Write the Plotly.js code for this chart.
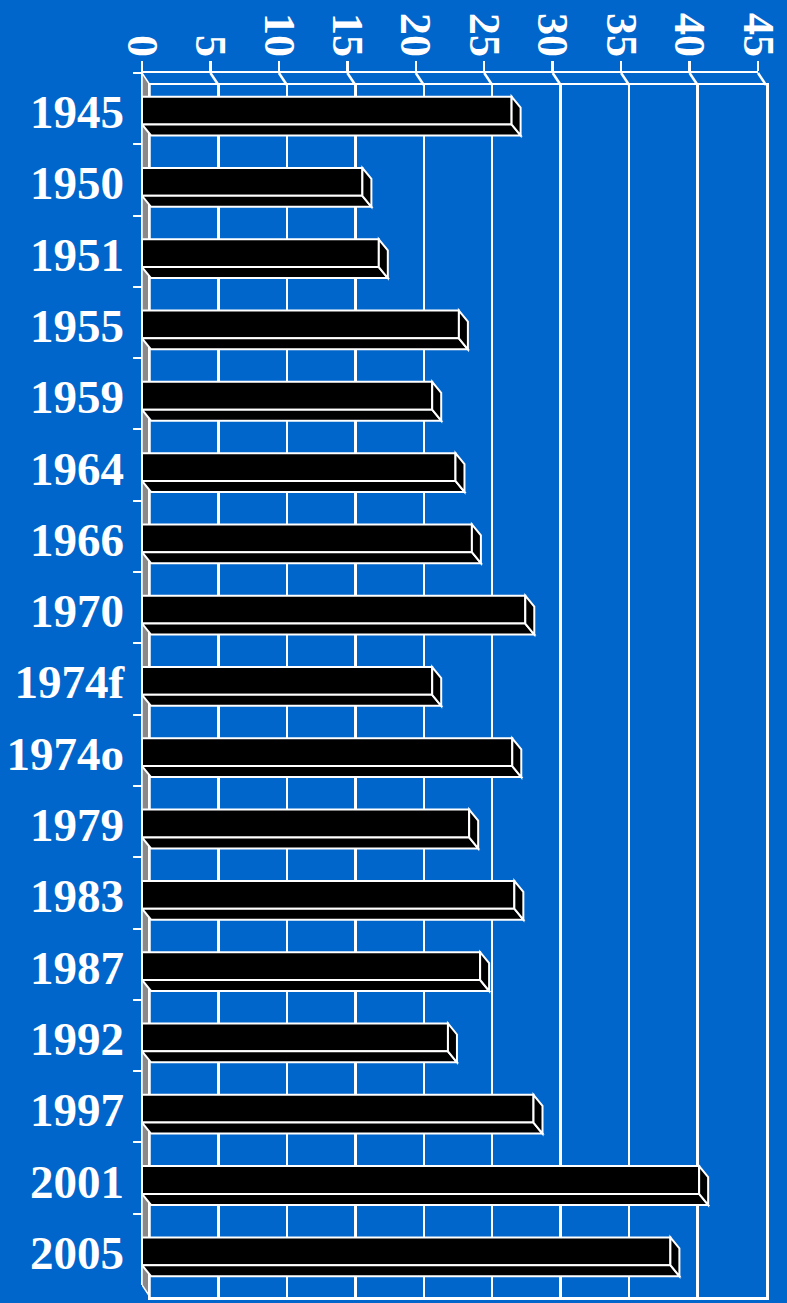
<!DOCTYPE html>
<html>
<head>
<meta charset="utf-8">
<script src="https://cdn.plot.ly/plotly-3.0.1.min.js"></script>
<style>html,body{margin:0;padding:0;background:#0066CC;}#chart{width:787px;height:1303px;}</style>
</head>
<body>
<div id="chart"></div>
<script>
// ---- data ----
const categories = ['1945','1950','1951','1955','1959','1964','1966','1970','1974f','1974o','1979','1983','1987','1992','1997','2001','2005'];
const values = [27.0,16.1,17.3,23.15,21.2,22.9,24.1,28.0,21.2,27.05,23.9,27.2,24.7,22.35,28.6,40.7,38.6];
const xTickVals = [0,5,10,15,20,25,30,35,40,45];
const xTickLabels = ['0','5','10','15','20','25','30','35','40','45'];

// ---- geometry / style ----
const W = 787, H = 1303;
const FX0 = 142, FX1 = 758, FY0 = 73, FY1 = 1285;   // front plane (px)
const GDX = 8, GDY = 12;     // depth of chart box (px)
const BDX = 9, BDY = 11;     // depth of bars (px)
const XMAX = 45;
const N = categories.length;
const pxX = (FX1 - FX0) / XMAX;
const pxY = (FY1 - FY0) / N;
const BAR_W = 0.39, BAR_OFF = -0.168;
const SERIF = '"Liberation Serif", "Times New Roman", serif';
const WHITE = '#ffffff';

const gdxU = GDX / pxX;
const bdxU = BDX / pxX, bdyU = BDY / pxY;
const FT = 1 - FY0 / H, FB = 1 - FY1 / H;
const BT = 1 - (FY0 + GDY) / H, BB = 1 - (FY1 + GDY) / H;

const traces = [
  {type:'scatter', x:[], y:[], xaxis:'x', yaxis:'y', hoverinfo:'skip', showlegend:false},
  {type:'bar', orientation:'h', x:values, y:categories, xaxis:'x2', yaxis:'y2',
   width:BAR_W, offset:BAR_OFF, hoverinfo:'skip', showlegend:false,
   marker:{color:'#000000', line:{color:WHITE, width:2}}}
];

const shapes = [];
// left wall (gray)
shapes.push({type:'path', xref:'x2', yref:'paper', layer:'below',
  path:`M 0,${FT} L ${gdxU},${BT} L ${gdxU},${BB} L 0,${FB} Z`,
  fillcolor:'#8a8a8a', line:{color:WHITE, width:1.5}});
// ceiling diagonals at each tick (back-plane x axis)
xTickVals.forEach(k => {
  if (k === 0) return;
  shapes.push({type:'line', xref:'x', yref:'paper', layer:'above',
    x0:k - gdxU, y0:FT, x1:k, y1:BT, line:{color:WHITE, width:2.5}});
});
// bar depth faces
values.forEach((v, i) => {
  const yt = i + BAR_OFF, yb = yt + BAR_W;
  shapes.push({type:'path', xref:'x2', yref:'y2', layer:'above',
    path:`M 0,${yb} L ${v},${yb} L ${v+bdxU},${yb+bdyU} L ${bdxU},${yb+bdyU} Z`,
    fillcolor:'#000000', line:{color:WHITE, width:2}});
  shapes.push({type:'path', xref:'x2', yref:'y2', layer:'above',
    path:`M ${v},${yt} L ${v+bdxU},${yt+bdyU} L ${v+bdxU},${yb+bdyU} L ${v},${yb} Z`,
    fillcolor:'#000000', line:{color:WHITE, width:2}});
});

const layout = {
  width:W, height:H, margin:{l:0, r:0, t:0, b:0, pad:0},
  paper_bgcolor:'#0066CC', plot_bgcolor:'rgba(0,0,0,0)', showlegend:false,
  xaxis:{domain:[(FX0+GDX)/W, (FX1+GDX)/W], range:[0, XMAX], anchor:'y', side:'top',
    tickvals:xTickVals, showgrid:true, gridcolor:WHITE, gridwidth:2.5,
    showline:true, mirror:true, linecolor:WHITE, linewidth:2.5,
    showticklabels:false, ticks:'', zeroline:false, fixedrange:true},
  yaxis:{domain:[BB, BT], range:[N-0.5, -0.5], anchor:'x',
    showgrid:false, showline:true, mirror:true, linecolor:WHITE, linewidth:2.5,
    showticklabels:false, ticks:'', zeroline:false, fixedrange:true},
  xaxis2:{domain:[FX0/W, FX1/W], range:[0, XMAX], anchor:'y2', side:'top',
    tickvals:xTickVals, ticktext:xTickLabels, tickangle:90,
    ticks:'outside', ticklen:10, tickwidth:2.5, tickcolor:WHITE,
    showline:true, linecolor:WHITE, linewidth:2.5, showgrid:false, zeroline:false,
    tickfont:{family:SERIF, size:44, color:WHITE, weight:'bold'}, ticklabelstandoff:-12, fixedrange:true},
  yaxis2:{domain:[FB, FT], type:'category', categoryorder:'array', categoryarray:categories,
    range:[N-0.5, -0.5], anchor:'x2', tickson:'boundaries',
    ticks:'outside', ticklen:8, tickwidth:2, tickcolor:WHITE,
    showline:true, linecolor:WHITE, linewidth:1.5, showgrid:false, zeroline:false,
    tickfont:{family:SERIF, size:47, color:WHITE, weight:'bold'}, ticklabelstandoff:7,
    ticklabelshift:-3, fixedrange:true},
  shapes:shapes
};

Plotly.newPlot('chart', traces, layout, {displayModeBar:false, staticPlot:true});
</script>
</body>
</html>
